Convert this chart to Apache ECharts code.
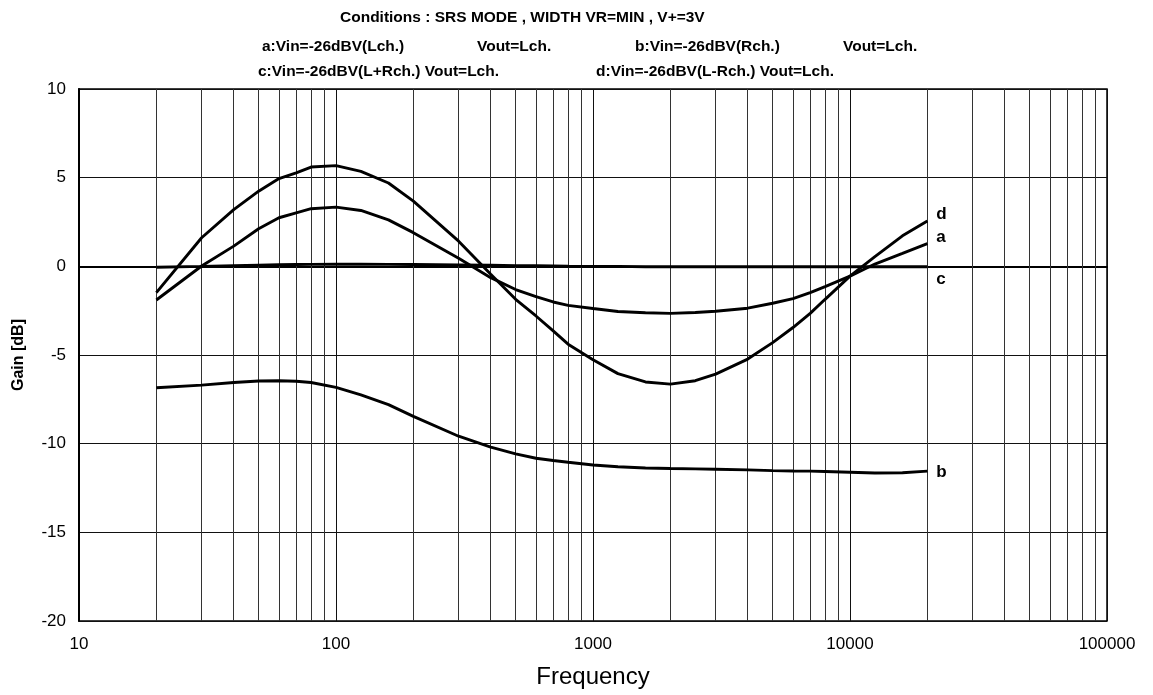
<!DOCTYPE html>
<html>
<head>
<meta charset="utf-8">
<script src="https://cdn.jsdelivr.net/npm/echarts@6/dist/echarts.min.js"></script>
<style>
    html, body { margin: 0; padding: 0; background: #fff; }
    #chart { width: 1153px; height: 695px; }
</style>
</head>
<body>
<div id="chart"></div>
<script>
    // frequencies (Hz) where the curves were read
    var freqs = [20, 30, 40, 50, 60, 70, 80, 100, 125, 160, 200, 300, 400, 500, 600, 700, 800,
        1000, 1250, 1600, 2000, 2500, 3000, 4000, 5000, 6000, 7000, 8000, 10000, 12500, 16000, 20000];

    var gainA = [-1.9, 0.02, 1.14, 2.12, 2.74, 3.02, 3.25, 3.34, 3.15, 2.62, 1.9, 0.45, -0.64, -1.31, -1.71, -2.01, -2.2,
        -2.38, -2.55, -2.62, -2.65, -2.6, -2.53, -2.36, -2.08, -1.82, -1.48, -1.14, -0.55, 0.13, 0.73, 1.28];
    var gainB = [-6.85, -6.7, -6.55, -6.47, -6.45, -6.48, -6.55, -6.83, -7.25, -7.8, -8.46, -9.58, -10.2, -10.58, -10.82, -10.95, -11.05,
        -11.2, -11.3, -11.37, -11.4, -11.42, -11.44, -11.48, -11.52, -11.54, -11.55, -11.57, -11.61, -11.65, -11.64, -11.55];
    var gainC = [-0.05, 0.0, 0.04, 0.07, 0.09, 0.1, 0.11, 0.12, 0.12, 0.11, 0.1, 0.08, 0.06, 0.04, 0.03, 0.02, 0.01,
        0.0, 0.0, -0.02, -0.02, -0.02, -0.02, -0.02, -0.02, -0.02, -0.02, -0.02, -0.02, -0.02, -0.02, -0.02];
    var gainD = [-1.48, 1.61, 3.2, 4.24, 4.95, 5.27, 5.6, 5.68, 5.35, 4.7, 3.68, 1.42, -0.45, -1.86, -2.8, -3.64, -4.39,
        -5.27, -6.05, -6.52, -6.64, -6.45, -6.08, -5.23, -4.3, -3.45, -2.65, -1.86, -0.55, 0.55, 1.72, 2.55];

    var xTicks = [10, 100, 1000, 10000, 100000];
    var yTicks = [-20, -15, -10, -5, 0, 5, 10];
    // the 2..9 lines inside each decade
    var minorLines = [];
    [10, 100, 1000, 10000].forEach(function (d) {
        for (var k = 2; k <= 9; k++) minorLines.push(d * k);
    });

    var titleLines = [
        { text: 'Conditions : SRS MODE , WIDTH VR=MIN , V+=3V', left: 340, top: 10 },
        { text: 'a:Vin=-26dBV(Lch.)', left: 262, top: 39 },
        { text: 'Vout=Lch.', left: 477, top: 39 },
        { text: 'b:Vin=-26dBV(Rch.)', left: 635, top: 39 },
        { text: 'Vout=Lch.', left: 843, top: 39 },
        { text: 'c:Vin=-26dBV(L+Rch.) Vout=Lch.', left: 258, top: 64 },
        { text: 'd:Vin=-26dBV(L-Rch.) Vout=Lch.', left: 596, top: 64 }
    ];

    var font = 'Arial, "Liberation Sans", sans-serif';

    var pair = function (vals) {
        return freqs.map(function (f, i) { return [f, vals[i]]; });
    };

    var curve = function (name, vals, offset) {
        return {
            name: name,
            type: 'line',
            data: pair(vals),
            showSymbol: false,
            lineStyle: { color: '#000', width: 2.9 },
            endLabel: {
                show: true,
                formatter: name,
                distance: 9,
                offset: offset,
                color: '#000',
                fontFamily: font,
                fontWeight: 'bold',
                fontSize: 17
            },
            z: 5
        };
    };

    var chart = echarts.init(document.getElementById('chart'));
    chart.setOption({
        backgroundColor: '#fff',
        animation: false,
        title: titleLines.map(function (t) {
            return {
                text: t.text,
                left: t.left,
                top: t.top,
                padding: 0,
                textStyle: { fontFamily: font, fontWeight: 'bold', fontSize: 15.5, color: '#000' }
            };
        }),
        grid: {
            left: 79, right: 46, top: 89, bottom: 74,
            show: true, borderColor: '#000', borderWidth: 1.5
        },
        xAxis: {
            type: 'log',
            logBase: 10,
            min: xTicks[0],
            max: xTicks[xTicks.length - 1],
            name: 'Frequency',
            nameLocation: 'middle',
            nameGap: 44,
            nameTextStyle: { fontFamily: font, fontSize: 24, color: '#000' },
            axisLine: { lineStyle: { color: '#000', width: 2 } },
            axisTick: { show: false },
            axisLabel: {
                margin: 15,
                fontFamily: font,
                fontSize: 17,
                color: '#000',
                formatter: function (v) { return String(Math.round(v)); }
            },
            splitLine: { show: true, lineStyle: { color: '#111', width: 1 } }
        },
        yAxis: {
            type: 'value',
            min: yTicks[0],
            max: yTicks[yTicks.length - 1],
            interval: 5,
            name: 'Gain [dB]',
            nameLocation: 'middle',
            nameRotate: 90,
            nameGap: 52,
            nameTextStyle: { fontFamily: font, fontSize: 16, fontWeight: 'bold', color: '#000' },
            axisLine: { show: true, lineStyle: { color: '#000', width: 2 } },
            axisTick: { show: false },
            axisLabel: { margin: 13, fontFamily: font, fontSize: 17, color: '#000' },
            splitLine: { show: true, lineStyle: { color: '#111', width: 1 } }
        },
        series: [
            {
                name: 'grid',
                type: 'line',
                data: [],
                silent: true,
                markLine: {
                    silent: true,
                    symbol: 'none',
                    label: { show: false },
                    lineStyle: { color: '#333', width: 1, type: 'solid' },
                    data: minorLines.map(function (f) { return { xAxis: f }; })
                },
                z: 1
            },
            curve('a', gainA, [0, -6]),
            curve('b', gainB, [0, 1]),
            curve('c', gainC, [0, 13]),
            curve('d', gainD, [0, -7])
        ]
    });
</script>
</body>
</html>
